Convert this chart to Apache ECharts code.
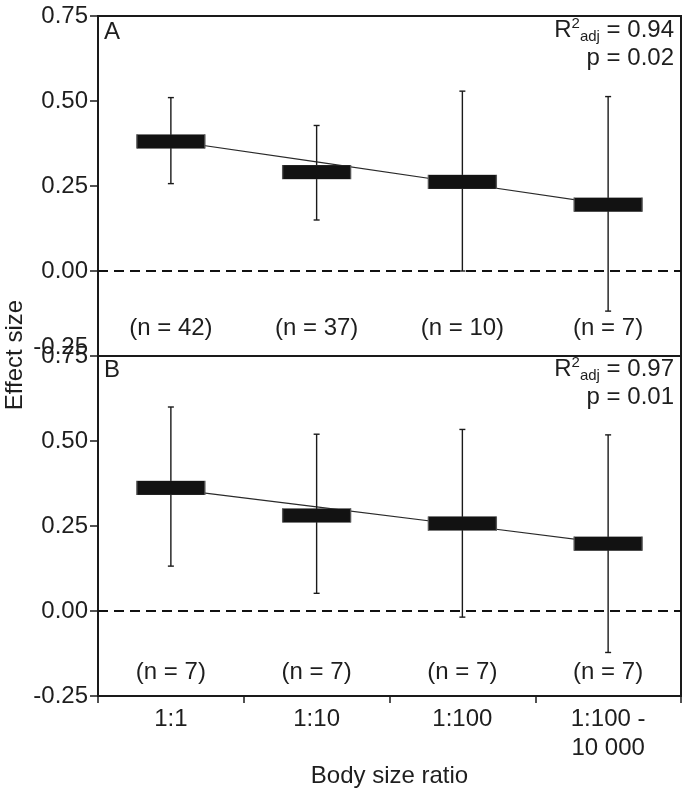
<!DOCTYPE html>
<html><head><meta charset="utf-8">
<script src="https://cdn.jsdelivr.net/npm/echarts@6/dist/echarts.min.js"></script>
<style>html,body{margin:0;padding:0;background:#fff}#c{width:687px;height:790px}</style>
</head><body><div id="c"></div>
<script>
// ---- data ----
const categories = ['1:1', '1:10', '1:100', '1:100 -\n10 000'];
const meanA = [0.381, 0.291, 0.262, 0.195];
const lowA  = [0.257, 0.150, 0.000, -0.118];
const highA = [0.510, 0.428, 0.529, 0.513];
const fitA  = [0.383, 0.321, 0.258, 0.195];
const nA    = [42, 37, 10, 7];
const r2A = '0.94', pA = '0.02';

const meanB = [0.362, 0.281, 0.257, 0.198];
const lowB  = [0.132, 0.052, -0.018, -0.122];
const highB = [0.600, 0.520, 0.534, 0.518];
const fitB  = [0.359, 0.306, 0.253, 0.199];
const nB    = [7, 7, 7, 7];
const r2B = '0.97', pB = '0.01';

const yMin = -0.25, yMax = 0.75, yStep = 0.25;

// ---- chart ----
const FONT = '"Liberation Sans", Arial, Helvetica, sans-serif';
const INK = '#1a1a1a';
const chart = echarts.init(document.getElementById('c'), null, {renderer: 'canvas'});

function errRender(params, api) {
  const i = api.value(0);
  const lo = api.coord([i, api.value(1)]);
  const hi = api.coord([i, api.value(2)]);
  const w = 3;
  const st = {stroke: INK, lineWidth: 1.4};
  return {type: 'group', children: [
    {type: 'line', shape: {x1: hi[0], y1: hi[1], x2: lo[0], y2: lo[1]}, style: st},
    {type: 'line', shape: {x1: hi[0] - w, y1: hi[1], x2: hi[0] + w, y2: hi[1]}, style: st},
    {type: 'line', shape: {x1: lo[0] - w, y1: lo[1], x2: lo[0] + w, y2: lo[1]}, style: st}
  ]};
}

function panelSeries(idx, mean, low, high, fit, n, labelY) {
  return [
    {
      type: 'line', xAxisIndex: idx, yAxisIndex: idx, data: fit, symbol: 'none', silent: true,
      lineStyle: {color: '#2a2a2a', width: 1.2}, z: 2,
      markLine: {
        silent: true, symbol: ['none', 'none'], label: {show: false},
        lineStyle: {type: [10, 6], color: '#111', width: 2, opacity: 1},
        emphasis: {disabled: true},
        data: [{yAxis: 0}]
      }
    },
    {
      type: 'custom', xAxisIndex: idx, yAxisIndex: idx, renderItem: errRender, silent: true, z: 3,
      encode: {x: 0, y: [1, 2]},
      data: categories.map((c, i) => [i, low[i], high[i]])
    },
    {
      type: 'scatter', xAxisIndex: idx, yAxisIndex: idx, symbol: 'rect', symbolSize: [68, 14], silent: true,
      itemStyle: {color: '#121212', borderColor: '#555', borderWidth: 0.6, opacity: 1}, z: 4,
      data: mean.map((v, i) => [i, v])
    },
    {
      type: 'scatter', xAxisIndex: idx, yAxisIndex: idx, symbolSize: 0, silent: true, z: 5,
      itemStyle: {opacity: 1},
      data: n.map((v, i) => [i, labelY, v]),
      label: {
        show: true, position: 'inside', color: '#1e1e1e', fontSize: 24, fontFamily: FONT,
        formatter: p => '(n = ' + p.data[2] + ')'
      }
    }
  ];
}

function yAxisCfg(idx, shiftLow) {
  return {
    type: 'value', gridIndex: idx, min: yMin, max: yMax, interval: yStep,
    axisLine: {show: true, lineStyle: {color: INK, width: 2}},
    axisTick: {show: true, inside: false, length: 8, lineStyle: {color: INK, width: 1.5}},
    splitLine: {show: false},
    axisLabel: {
      color: '#1e1e1e', fontSize: 24, fontFamily: FONT, margin: 10,
      formatter: v => (shiftLow && Math.abs(v - yMin) < 1e-9) ? '{lo|' + v.toFixed(2) + '}' : v.toFixed(2),
      rich: {lo: {fontSize: 24, fontFamily: FONT, color: '#1e1e1e', padding: [0, 0, 18, 0]}}
    }
  };
}

function statText(r2, p) {
  return '{m|R}{sup|2}{sub|adj}{m| = ' + r2 + '}\n{m|p = ' + p + '}';
}
const statRich = {
  m: {fontSize: 24, lineHeight: 28, fontFamily: FONT, fill: '#1e1e1e', verticalAlign: 'middle'},
  sup: {fontSize: 15, lineHeight: 15, fontFamily: FONT, fill: '#1e1e1e', verticalAlign: 'top'},
  sub: {fontSize: 15, lineHeight: 15, fontFamily: FONT, fill: '#1e1e1e', verticalAlign: 'bottom'}
};

const option = {
  animation: false,
  backgroundColor: '#fff',
  textStyle: {fontFamily: FONT},
  grid: [
    {left: 98, top: 16, width: 583, height: 340, show: true, borderColor: INK, borderWidth: 2, backgroundColor: 'transparent'},
    {left: 98, top: 356, width: 583, height: 340, show: true, borderColor: INK, borderWidth: 2, backgroundColor: 'transparent'}
  ],
  xAxis: [
    {
      type: 'category', gridIndex: 0, data: categories, boundaryGap: true,
      axisLine: {show: true, onZero: false, lineStyle: {color: INK, width: 2}},
      axisTick: {show: false}, axisLabel: {show: false}, splitLine: {show: false}
    },
    {
      type: 'category', gridIndex: 1, data: categories, boundaryGap: true,
      axisLine: {show: true, onZero: false, lineStyle: {color: INK, width: 2}},
      axisTick: {show: true, inside: false, length: 7, alignWithLabel: false, lineStyle: {color: INK, width: 1.5}},
      axisLabel: {color: '#1e1e1e', fontSize: 24, lineHeight: 29, fontFamily: FONT, margin: 9, interval: 0},
      splitLine: {show: false},
      name: 'Body size ratio', nameLocation: 'middle', nameGap: 56,
      nameTextStyle: {color: '#1e1e1e', fontSize: 24, fontFamily: FONT}
    }
  ],
  yAxis: [yAxisCfg(0, true), yAxisCfg(1, false)],
  series: [
    ...panelSeries(0, meanA, lowA, highA, fitA, nA, -0.17),
    ...panelSeries(1, meanB, lowB, highB, fitB, nB, -0.18)
  ],
  graphic: [
    {type: 'text', left: 104, top: 20, silent: true,
      style: {text: 'A', fontSize: 24, fontFamily: FONT, fill: '#1e1e1e'}},
    {type: 'text', left: 104, top: 358, silent: true,
      style: {text: 'B', fontSize: 24, fontFamily: FONT, fill: '#1e1e1e'}},
    {type: 'text', x: 674, y: 16, silent: true,
      style: {text: statText(r2A, pA), align: 'right', verticalAlign: 'top', rich: statRich, fontFamily: FONT, fill: '#1e1e1e'}},
    {type: 'text', x: 674, y: 355, silent: true,
      style: {text: statText(r2B, pB), align: 'right', verticalAlign: 'top', rich: statRich, fontFamily: FONT, fill: '#1e1e1e'}},
    {type: 'text', x: 15, y: 355, rotation: Math.PI / 2, silent: true,
      style: {text: 'Effect size', fontSize: 24, fontFamily: FONT, fill: '#1e1e1e', align: 'center', verticalAlign: 'middle'}}
  ]
};
chart.setOption(option);
</script>
</body></html>
